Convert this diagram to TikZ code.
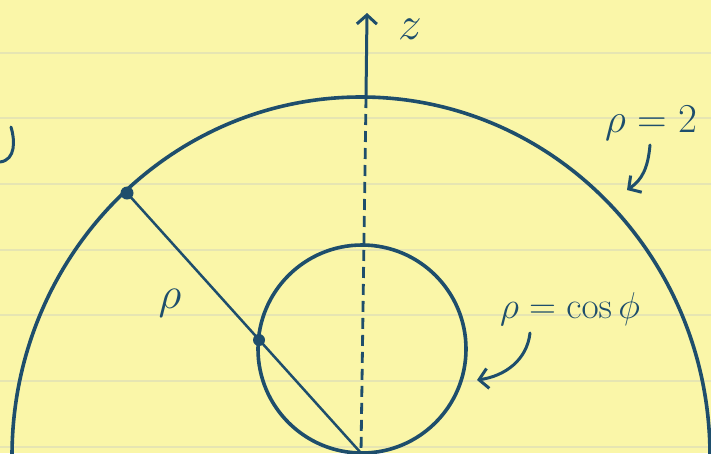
\documentclass[tikz,border=0pt]{standalone}
\usetikzlibrary{arrows.meta}
\definecolor{ink}{RGB}{30,78,108}
\definecolor{paper}{RGB}{250,246,168}
\definecolor{ruling}{RGB}{230,229,178}
\begin{document}
\begin{tikzpicture}[x=1pt,y=-1pt,
  inkline/.style={draw=ink, line width=3.6pt, line cap=round, line join=round},
  thinline/.style={draw=ink, line width=2.5pt, line cap=round},
  lab/.style={text=ink, inner sep=0pt, font=\Huge},
  barb/.style={-{Straight Barb[length=9pt,width=20pt]}},
  dotmark/.style={fill=ink}]
\fill[paper] (0,0) rectangle (711,453);
\useasboundingbox (0,0) rectangle (711,453);
\clip (0,0) rectangle (711,453);
\foreach \yy in {53,118,184,250,315,381,447}
  \draw[ruling, line width=1.4pt] (0,\yy) -- (711,\yy);
% key points
\coordinate (O) at (361,453);
\coordinate (ztip) at (367,13);
\coordinate (top) at (366,97);
\coordinate (A) at (127,193);
\coordinate (B) at (259,340);
\coordinate (C) at (362,349);
\coordinate (L) at (12,456);
% outer semicircle rho = 2
\draw[inkline] (L) arc[start angle=180, end angle=0, x radius=349pt, y radius=359pt];
% inner circle rho = cos phi
\draw[inkline] (C) circle[radius=104pt];
% z axis
\draw[thinline, line width=3pt, barb] (top) -- (ztip);
\draw[thinline, line width=2.8pt, line cap=butt, dash pattern=on 11pt off 6pt] (top) -- (O);
% radius line
\draw[thinline] (O) -- (A);
\fill[dotmark] (A) circle[radius=6.5pt];
\fill[dotmark] (B) circle[radius=6pt];
% labels
\node[lab, scale=1.9] (zlab) at (410,29) {$z$};
\node[lab, scale=1.65, anchor=base] (rhotwo) at (651,132) {$\rho=2$};
\node[lab, scale=1.5, anchor=base] (rhocos) at (570,318) {$\rho=\cos\phi$};
\node[lab, scale=1.8] (rholab) at (170,303) {$\rho$};
% arrows from labels
\coordinate (a1s) at (650,145);
\coordinate (a1e) at (627,190);
\draw[thinline, line width=3pt, barb] (a1s) .. controls (648,168) and (642,180) .. (a1e);
\coordinate (a2s) at (530,333);
\coordinate (a2e) at (477,380);
\draw[thinline, line width=3pt, barb] (a2s) .. controls (527,360) and (505,376) .. (a2e);
% partial mark at left edge
\draw[thinline, line width=3pt] (11,127) .. controls (15,140) and (16,160) .. (0,162);
\end{tikzpicture}
\end{document}
